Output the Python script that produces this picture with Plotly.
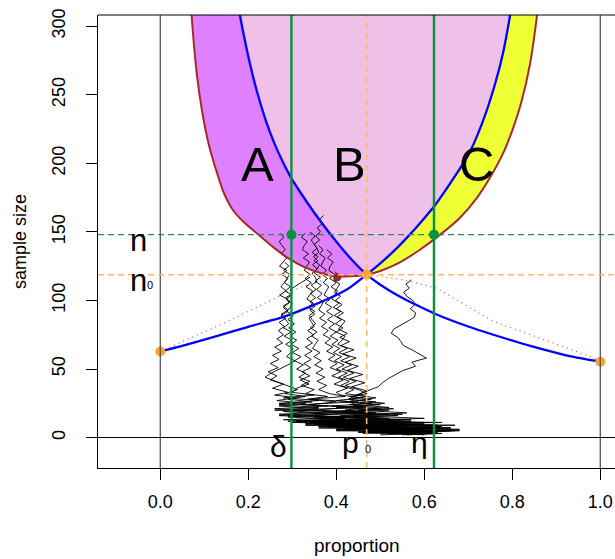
import plotly.graph_objects as go

# ---------------- key values ----------------
p0 = 0.469
n0 = 118.8
delta = 0.298
eta = 0.622
n_max = 148.0
end_left = (0.0, 62.8)
end_right = (1.0, 55.3)
min_point = (0.402, 116.9)

# ---------------- boundary curves ----------------
brown_left_p = [0.068, 0.073, 0.083, 0.095, 0.110, 0.128, 0.145, 0.165, 0.190, 0.223, 0.260, 0.295, 0.330, 0.370, 0.400, 0.430, 0.469]
brown_left_n = [325, 300, 265, 238, 214, 194, 178, 166, 157, 148, 138, 130, 124, 119.5, 117.6, 117.6, 118.8]
brown_right_p = [0.469, 0.50, 0.54, 0.59, 0.636, 0.68, 0.72, 0.75, 0.78, 0.80, 0.82, 0.84, 0.855, 0.862]
brown_right_n = [118.8, 121.5, 127, 137, 148, 160, 175, 190, 208, 224, 244, 272, 305, 325]

blue_desc_up_p = [0.469, 0.44, 0.41, 0.38, 0.35, 0.32, 0.298, 0.28, 0.26, 0.24, 0.22, 0.20, 0.181, 0.172]
blue_desc_up_n = [118.8, 128, 139, 151, 164, 178, 189, 200, 214, 231, 252, 278, 308, 325]
blue_desc_low_p = [0.469, 0.50, 0.53, 0.58, 0.628, 0.70, 0.757, 0.82, 0.87, 0.93, 1.0]
blue_desc_low_n = [118.8, 111.5, 105.5, 97, 89.8, 81, 75, 68.8, 64.3, 59.4, 55.3]

blue_rise_low_p = [0.0, 0.06, 0.128, 0.20, 0.28, 0.34, 0.40, 0.431, 0.469]
blue_rise_low_n = [62.8, 67.8, 74, 80.8, 88, 95.5, 104, 109.5, 118.8]
blue_rise_up_p = [0.469, 0.50, 0.537, 0.567, 0.60, 0.622, 0.66, 0.70, 0.73, 0.76, 0.78, 0.795, 0.805]
blue_rise_up_n = [118.8, 127, 138, 148, 160, 168.5, 186, 206, 228, 257, 282, 308, 328]

dot_left_p = [0.0, 0.128, 0.223, 0.291, 0.348, 0.40]
dot_left_n = [62.8, 81.0, 95.6, 106.5, 112.6, 117.5]
dot_right_p = [0.469, 0.553, 0.628, 0.757, 0.977, 1.0]
dot_right_n = [118.8, 115.0, 109.0, 84.7, 59.2, 55.3]

# ---------------- sample paths (proportion, sample size) ----------------
s3_149 = list(range(149, 31, -3))
walk1_n = s3_149 + list(range(30, 11, -2)) + list(range(11, 2, -1))
walk1_p = [.272, .281, .270, .276, .284, .274, .287, .279, .271, .288, .276, .29, .283, .274, .286, .271, .289, .292, .279, .29,
           .274, .285, .292, .28, .297, .282, .299, .285, .302, .296, .287, .306, .29, .27, .252, .238, .262, .29, .312, .283,
           .33, .29, .345, .27, .36, .26, .38, .27, .42, .29,
           .47, .33, .55, .36, .62, .40, .58, .45, .52]

walk2_n = s3_149 + list(range(30, 11, -2)) + list(range(11, 2, -1))
walk2_p = [.329, .321, .334, .327, .323, .337, .325, .339, .333, .327, .341, .329, .343, .331, .346, .339, .333, .348, .336, .351,
           .339, .345, .353, .341, .356, .344, .359, .352, .346, .363, .349, .366, .351, .37, .354, .374, .356, .378, .36, .385,
           .42, .34, .44, .32, .46, .30, .48, .29, .51, .31,
           .55, .35, .60, .38, .64, .42, .66, .48, .60]

walk3_n = list(range(150, 32, -3)) + list(range(31, 12, -2)) + list(range(12, 1, -1))
walk3_p = [.340, .352, .343, .349, .356, .345, .358, .349, .362, .356, .350, .364, .352, .366, .355, .368, .357, .371, .365, .36,
           .374, .362, .378, .366, .382, .37, .387, .374, .392, .378, .397, .382, .402, .386, .41, .39, .416, .395, .425, .40,
           .41, .46, .40, .48, .39, .50, .37, .52, .35, .55,
           .33, .58, .36, .62, .40, .66, .44, .68, .50, .64, .55]

walk4_n = list(range(162, 32, -3)) + list(range(31, 12, -2)) + list(range(12, 2, -1))
walk4_p = [.371, .362, .368, .357, .364, .353, .362, .35, .356, .36, .348, .358, .346, .357, .345, .352, .356, .343, .354, .342,
           .353, .34, .352, .34, .351, .338, .344, .35, .335, .348, .333, .346, .33, .345, .328, .343, .326, .342, .322, .34,
           .318, .338, .31, .30,
           .35, .28, .36, .27, .38, .26, .40, .27, .43, .28,
           .46, .30, .50, .33, .55, .36, .60, .40, .63, .46]

walk5_n = list(range(137, 31, -3)) + list(range(30, 11, -2)) + list(range(11, 1, -1))
walk5_p = [.378, .39, .38, .393, .386, .383, .396, .385, .40, .388, .403, .397, .39, .406, .393, .41, .395, .412, .398, .415,
           .40, .42, .413, .403, .425, .406, .43, .41, .435, .413, .44, .416, .445, .42, .45, .47,
           .43, .48, .42, .50, .40, .52, .38, .54, .36, .57,
           .34, .60, .38, .64, .42, .68, .47, .63, .52, .60]

walk6_n = list(range(121, 30, -3)) + list(range(29, 12, -2)) + list(range(12, 2, -1))
walk6_p = [.397, .405, .394, .408, .402, .396, .41, .398, .413, .40, .416, .402, .42, .412, .405, .425, .408, .43, .41, .44,
           .415, .445, .42, .45, .425, .46, .43, .465, .435, .47, .445,
           .49, .45, .51, .44, .53, .42, .55, .40, .57,
           .38, .60, .42, .63, .45, .66, .50, .62, .54, .58]

walk7_n = [115, 112, 109, 106, 103, 100, 97, 94, 91, 88, 85, 82, 79, 76, 73, 70, 67, 64, 61, 58, 55, 52, 49, 46, 43, 40, 37, 34,
           31, 28, 26, 24, 22, 20, 18, 16, 14, 12, 11, 10, 9, 8, 7, 6, 5, 4]
walk7_p = [.571, .558, .566, .553, .560, .574, .579, .568, .58, .578, .563, .548, .53, .525, .54, .547, .553, .572, .59, .605,
           .572, .58, .552, .535, .518, .505, .495, .47, .45, .427, .45, .43, .47, .42, .49, .41, .52, .43, .56, .45, .60, .48,
           .64, .52, .67, .55]

walk8_n = list(range(117, 32, -3)) + list(range(31, 12, -2)) + list(range(12, 2, -1))
walk8_p = [.34, .325, .31, .295, .30, .285, .295, .28, .29, .275, .285, .27, .282, .268, .28, .265, .278, .26, .275, .255,
           .27, .25, .268, .245, .265, .25, .28, .255, .29,
           .26, .31, .265, .33, .27, .36, .28, .39, .29, .42,
           .31, .45, .33, .50, .36, .55, .40, .60, .45, .56]

walk9_n = list(range(128, 31, -3)) + list(range(30, 11, -2)) + list(range(11, 1, -1))
walk9_p = [.283, .292, .28, .294, .288, .282, .296, .284, .298, .286, .30, .295, .288, .302, .29, .305, .292, .308, .295, .31,
           .297, .315, .30, .32, .305, .325, .31, .33, .315, .34, .32, .35, .33,
           .38, .335, .40, .34, .43, .35, .47, .33, .50, .32,
           .53, .35, .57, .38, .61, .42, .65, .46, .61, .50]

walk10_n = list(range(140, 31, -3)) + list(range(30, 11, -2)) + list(range(11, 1, -1))
walk10_p = [.36, .37, .362, .375, .369, .365, .378, .368, .38, .37, .383, .377, .372, .386, .375, .39, .378, .393, .38, .396,
            .383, .40, .386, .404, .39, .408, .393, .412, .396, .418, .40, .425, .405, .43, .41, .44, .42,
            .47, .43, .49, .44, .52, .45, .56, .44, .60, .42,
            .64, .40, .67, .44, .62, .48, .66, .52, .63, .56]

walks = [(walk1_p, walk1_n), (walk2_p, walk2_n), (walk3_p, walk3_n), (walk4_p, walk4_n), (walk5_p, walk5_n),
         (walk6_p, walk6_n), (walk7_p, walk7_n), (walk8_p, walk8_n), (walk9_p, walk9_n), (walk10_p, walk10_n)]

x_ticks = [0.0, 0.2, 0.4, 0.6, 0.8, 1.0]
x_tick_text = ["0.0", "0.2", "0.4", "0.6", "0.8", "1.0"]
y_ticks = [0, 50, 100, 150, 200, 250, 300]

# ---------------- styling ----------------
PINK = "#EFC0E8"
PURPLE = "#DF80FF"
YELLOW = "#EEFF33"
BLUE = "#0000FF"
BROWN = "#A52A2A"
GREEN = "#0A9140"
ORANGE = "#F7A52C"
ORANGE_LINE = "#FDBA66"
FONT = "Liberation Sans, Arial, sans-serif"

fig = go.Figure()

# fills
fig.add_trace(go.Scatter(x=brown_left_p + brown_right_p[1:], y=brown_left_n + brown_right_n[1:],
                         fill="toself", fillcolor=PINK, mode="lines", line=dict(width=0), hoverinfo="skip"))
fig.add_trace(go.Scatter(x=brown_left_p + blue_desc_up_p, y=brown_left_n + blue_desc_up_n,
                         fill="toself", fillcolor=PURPLE, mode="lines", line=dict(width=0), hoverinfo="skip"))
fig.add_trace(go.Scatter(x=blue_rise_up_p + brown_right_p[::-1], y=blue_rise_up_n + brown_right_n[::-1],
                         fill="toself", fillcolor=YELLOW, mode="lines", line=dict(width=0), hoverinfo="skip"))

# dotted red lines
for xs, ys in [(dot_left_p, dot_left_n), (dot_right_p, dot_right_n)]:
    fig.add_trace(go.Scatter(x=xs, y=ys, mode="lines", line=dict(color="#C05858", width=1.2, dash="1px,4px"),
                             hoverinfo="skip"))

# sample paths
for wp, wn in walks:
    fig.add_trace(go.Scatter(x=wp, y=wn, mode="lines", line=dict(color="black", width=0.9), hoverinfo="skip"))

# blue curves
fig.add_trace(go.Scatter(x=blue_desc_up_p[::-1] + blue_desc_low_p[1:], y=blue_desc_up_n[::-1] + blue_desc_low_n[1:],
                         mode="lines", line=dict(color=BLUE, width=2.3, shape="spline", smoothing=0.6), hoverinfo="skip"))
fig.add_trace(go.Scatter(x=blue_rise_low_p + blue_rise_up_p[1:], y=blue_rise_low_n + blue_rise_up_n[1:],
                         mode="lines", line=dict(color=BLUE, width=2.3, shape="spline", smoothing=0.6), hoverinfo="skip"))
# brown curve
fig.add_trace(go.Scatter(x=brown_left_p + brown_right_p[1:], y=brown_left_n + brown_right_n[1:],
                         mode="lines", line=dict(color=BROWN, width=2, shape="spline", smoothing=0.6), hoverinfo="skip"))

# points
fig.add_trace(go.Scatter(x=[min_point[0]], y=[min_point[1]], mode="markers",
                         marker=dict(color="#8E2A2A", size=8), hoverinfo="skip"))
fig.add_trace(go.Scatter(x=[end_left[0], end_right[0], p0], y=[end_left[1], end_right[1], n0], mode="markers",
                         marker=dict(color=ORANGE, size=10), hoverinfo="skip"))
fig.add_trace(go.Scatter(x=[delta, eta], y=[n_max, n_max], mode="markers",
                         marker=dict(color=GREEN, size=10), hoverinfo="skip"))

shapes = []
for xv in [0.0, 1.0]:
    shapes.append(dict(type="line", xref="x", yref="y domain", x0=xv, x1=xv, y0=0, y1=1,
                       line=dict(color="#555555", width=1.3)))
shapes.append(dict(type="line", xref="x domain", yref="y", x0=0, x1=1, y0=0, y1=0, line=dict(color="black", width=1.1)))
shapes.append(dict(type="line", xref="x domain", yref="y", x0=0, x1=1, y0=n_max, y1=n_max,
                   line=dict(color="#2E8B57", width=1.1, dash="6px,4px")))
shapes.append(dict(type="line", xref="x domain", yref="y", x0=0, x1=1, y0=n0, y1=n0,
                   line=dict(color=ORANGE_LINE, width=1.6, dash="6px,4px")))
shapes.append(dict(type="line", xref="x", yref="y domain", x0=p0, x1=p0, y0=0, y1=1,
                   line=dict(color=ORANGE_LINE, width=1.6, dash="6px,5px")))
for xv in [delta, eta]:
    shapes.append(dict(type="line", xref="x", yref="y domain", x0=xv, x1=xv, y0=0, y1=1,
                       line=dict(color=GREEN, width=2.4)))
shapes.append(dict(type="line", xref="x domain", yref="y domain", x0=0, x1=1, y0=1, y1=1,
                   line=dict(color="black", width=1)))

annotations = []
for txt, xv in [("A", 0.220), ("B", 0.431), ("C", 0.719)]:
    annotations.append(dict(x=xv, y=199.4, text=txt, showarrow=False, xref="x", yref="y",
                            font=dict(family=FONT, size=49, color="black")))
annotations.append(dict(x=-0.0495, y=144, text="n", showarrow=False, font=dict(family=FONT, size=31, color="black")))
annotations.append(dict(x=-0.0495, y=114.5, text="n", showarrow=False, font=dict(family=FONT, size=31, color="black")))
annotations.append(dict(x=-0.024, y=111.5, text="0", showarrow=False, font=dict(family=FONT, size=11, color="black")))
annotations.append(dict(x=0.268, y=-6.5, text="δ", showarrow=False, font=dict(family=FONT, size=30, color="black")))
annotations.append(dict(x=0.432, y=-3.5, text="p", showarrow=False, font=dict(family=FONT, size=30, color="black")))
annotations.append(dict(x=0.473, y=-8.5, text="0", showarrow=False, font=dict(family=FONT, size=11, color="black")))
annotations.append(dict(x=0.590, y=-3.5, text="η", showarrow=False, font=dict(family=FONT, size=30, color="black")))
# axis titles
annotations.append(dict(x=-0.1516, y=0.5, xref="paper", yref="paper", text="sample size", textangle=-90,
                        showarrow=False, xanchor="center", yanchor="middle",
                        font=dict(family=FONT, size=18, color="black")))
annotations.append(dict(x=0.5, y=-0.171, xref="paper", yref="paper", text="proportion",
                        showarrow=False, xanchor="center", yanchor="middle",
                        font=dict(family=FONT, size=19, color="black")))

fig.update_layout(
    width=615, height=559,
    margin=dict(l=98, r=0, t=15, b=91),
    paper_bgcolor="white", plot_bgcolor="white",
    showlegend=False,
    shapes=shapes, annotations=annotations,
    font=dict(family=FONT, size=18, color="black"),
    xaxis=dict(range=[-0.1416, 1.0334], tickvals=x_ticks, ticktext=x_tick_text, ticks="outside", ticklen=11,
               tickcolor="black", showline=True, linecolor="black", linewidth=1, showgrid=False, zeroline=False,
               tickfont=dict(size=18), ticklabelstandoff=6),
    yaxis=dict(range=[-22.2, 308.2], tickvals=y_ticks, ticks="outside", ticklen=11, tickangle=-90,
               tickcolor="black", showline=True, linecolor="black", linewidth=1, showgrid=False, zeroline=False,
               tickfont=dict(size=18), ticklabelstandoff=14),
)

fig.write_html("out.html")
